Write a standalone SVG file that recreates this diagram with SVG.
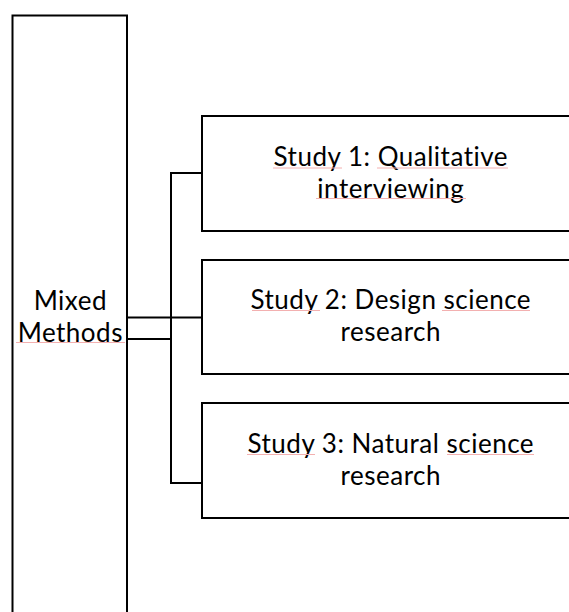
<svg xmlns="http://www.w3.org/2000/svg" width="569" height="612" viewBox="0 0 569 612">
<style>
.box{fill:#fff;stroke:#000;stroke-width:2}
.ln{fill:none;stroke:#000;stroke-width:2}
.t{font-family:Lato,"Open Sans",sans-serif;font-size:26px;letter-spacing:0.5px;fill:#000;text-anchor:middle}
.sq{fill:none;stroke:#f3b0b0;stroke-width:1}
</style>
<rect width="569" height="612" fill="#fff"/>
<g id="mixed-methods">
<path class="ln" d="M12.5,614 V15.5 H127 V614"/>
<text class="t" x="70.3" y="310">Mixed</text>
<text class="t" x="70.3" y="341.5">Methods</text>
<path class="sq" d="M16,342.5 H125"/>
</g>
<g id="connectors">
<path class="ln" d="M127,317.5 H202"/>
<path class="ln" d="M127,339 H171"/>
<path class="ln" d="M202,173 H171 V483 H202"/>
</g>
<g id="study1">
<rect class="box" x="202" y="116" width="380" height="115"/>
<text class="t" x="390.8" y="166">Study 1: Qualitative</text>
<text class="t" x="390.8" y="197.5">interviewing</text>
<path class="sq" d="M273,168 H342 M377,168 H508 M316,198.5 H466"/>
</g>
<g id="study2">
<rect class="box" x="202" y="260" width="380" height="114"/>
<text class="t" x="390.8" y="308.5">Study 2: Design science</text>
<text class="t" x="390.8" y="341">research</text>
<path class="sq" d="M252,310.5 H320 M442,310.5 H530"/>
</g>
<g id="study3">
<rect class="box" x="202" y="403" width="380" height="115"/>
<text class="t" x="390.8" y="452.5">Study 3: Natural science</text>
<text class="t" x="390.8" y="484.5">research</text>
<path class="sq" d="M247,454.5 H315 M447,454.5 H534"/>
</g>
</svg>
